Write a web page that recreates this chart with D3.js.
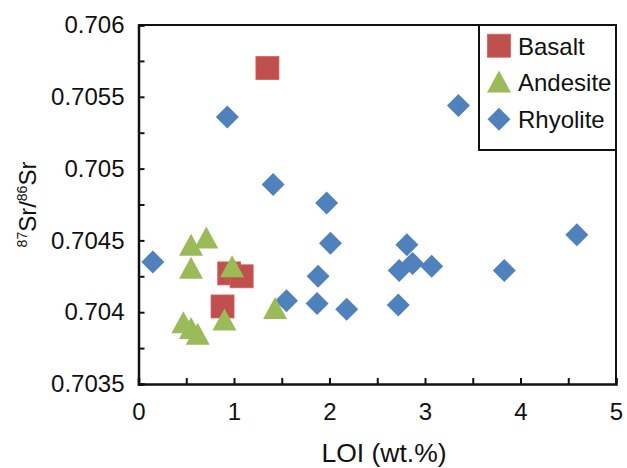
<!DOCTYPE html>
<html><head><meta charset="utf-8">
<script src="https://cdn.jsdelivr.net/npm/d3@7"></script>
<style>body{margin:0;background:#fff;} svg{display:block;} text{font-family:Arial,"Liberation Sans",sans-serif;fill:#111;}</style>
</head><body>
<svg id="c" width="627" height="468"></svg>
<script>
const basaltLOI = [1.35, 0.95, 1.08, 0.88];
const basaltSr  = [0.70570, 0.70427, 0.70425, 0.70404];
const andesiteLOI = [0.55, 0.71, 0.55, 0.98, 0.47, 0.55, 0.62, 0.90, 1.43];
const andesiteSr  = [0.70447, 0.70452, 0.70431, 0.70432, 0.70393, 0.70389, 0.70385, 0.70395, 0.70403];
const rhyoliteLOI = [0.15, 1.55, 0.93, 1.41, 1.97, 2.01, 1.88, 1.87, 2.18, 2.81, 2.73, 2.87, 3.07, 2.72, 3.35, 4.59, 3.83];
const rhyoliteSr  = [0.70435, 0.70408, 0.70536, 0.70489, 0.70476, 0.70448, 0.70425, 0.70406, 0.70402, 0.70447, 0.70429, 0.70434, 0.70432, 0.70405, 0.70544, 0.70454, 0.70429];
const xTicks = [0, 1, 2, 3, 4, 5];
const yTicks = [0.7035, 0.704, 0.7045, 0.705, 0.7055, 0.706];
const seriesNames = ["Basalt", "Andesite", "Rhyolite"];
const colors = {Basalt: "#C0504D", Andesite: "#9BBB59", Rhyolite: "#4F81BD"};

const svg = d3.select("#c");
const L = 138.5, R = 616, T = 25, B = 384;
const x = d3.scaleLinear().domain([0, 5]).range([L, R]);
const y = d3.scaleLinear().domain([0.7035, 0.706]).range([B, T]);

// frame (top and right)
svg.append("path").attr("d", `M${L},${T}H${R}V${B}`).attr("fill","none").attr("stroke","#111").attr("stroke-width",2);

// axes
const minorX = d3.range(0, 5.01, 0.5);
const minorY = d3.range(0, 11).map(i => 0.7035 + i * 0.00025);
const xAxis = d3.axisBottom(x).tickValues(minorX).tickSize(-6).tickFormat(d => xTicks.includes(d) ? d3.format("d")(d) : "").tickPadding(14);
const yAxis = d3.axisLeft(y).tickValues(minorY).tickSize(-6).tickFormat(d => yTicks.some(t => Math.abs(t - d) < 1e-9) ? String(+d.toFixed(4)) : "").tickPadding(12);

const gx = svg.append("g").attr("transform", `translate(0,${B})`).call(xAxis);
const gy = svg.append("g").attr("transform", `translate(${L},0)`).call(yAxis);
[gx, gy].forEach(g => {
  g.select(".domain").attr("stroke","#111").attr("stroke-width",2.5);
  g.selectAll(".tick line").attr("stroke","#111").attr("stroke-width",2);
  g.selectAll(".tick text").attr("font-size", 24).attr("font-family","Arial, 'Liberation Sans', sans-serif").attr("fill","#111");
});
gx.selectAll(".tick text").attr("dy", "0.71em").attr("y", 19);
gy.selectAll(".tick text").attr("x", -14);

// symbols
const sq = 23;
function drawSquare(g, cx, cy, c){ g.append("rect").attr("x", cx - sq/2).attr("y", cy - sq/2).attr("width", sq).attr("height", sq).attr("fill", c).attr("stroke", d3.color(c).brighter(0.4)).attr("stroke-width", 0.8); }
function drawTri(g, cx, cy, c){ const w = 24, h = 22; g.append("path").attr("d", `M${cx},${cy - h/2}L${cx + w/2},${cy + h/2}L${cx - w/2},${cy + h/2}Z`).attr("fill", c); }
function drawDiamond(g, cx, cy, c){ const r = 11.5; g.append("path").attr("d", `M${cx},${cy - r}L${cx + r},${cy}L${cx},${cy + r}L${cx - r},${cy}Z`).attr("fill", c); }

const pts = svg.append("g");
rhyoliteLOI.forEach((v, i) => drawDiamond(pts, x(v), y(rhyoliteSr[i]), colors.Rhyolite));
basaltLOI.forEach((v, i) => drawSquare(pts, x(v), y(basaltSr[i]), colors.Basalt));
andesiteLOI.forEach((v, i) => drawTri(pts, x(v), y(andesiteSr[i]), colors.Andesite));

// legend
const lg = svg.append("g");
lg.append("rect").attr("x", 479).attr("y", T).attr("width", R - 479).attr("height", 150 - T).attr("fill", "#fff").attr("stroke", "#111").attr("stroke-width", 2);
const ly = [45.7, 81.5, 119.3];
drawSquare(lg, 499, ly[0], colors.Basalt);
drawTri(lg, 499, ly[1], colors.Andesite);
drawDiamond(lg, 499, ly[2], colors.Rhyolite);
seriesNames.forEach((n, i) => lg.append("text").attr("x", 518).attr("y", ly[i] + 9).attr("font-size", 24).text(n));

// axis titles
svg.append("text").attr("x", 384).attr("y", 462).attr("text-anchor", "middle").attr("font-size", 26.5).text("LOI (wt.%)");
const yt = svg.append("text").attr("transform", `translate(36,${(T + B) / 2}) rotate(-90)`).attr("text-anchor", "middle").attr("font-size", 24);
yt.append("tspan").attr("font-size", 14).attr("dy", -9).text("87");
yt.append("tspan").attr("dy", 9).text("Sr/");
yt.append("tspan").attr("font-size", 14).attr("dy", -9).text("86");
yt.append("tspan").attr("dy", 9).text("Sr");
</script>
</body></html>
